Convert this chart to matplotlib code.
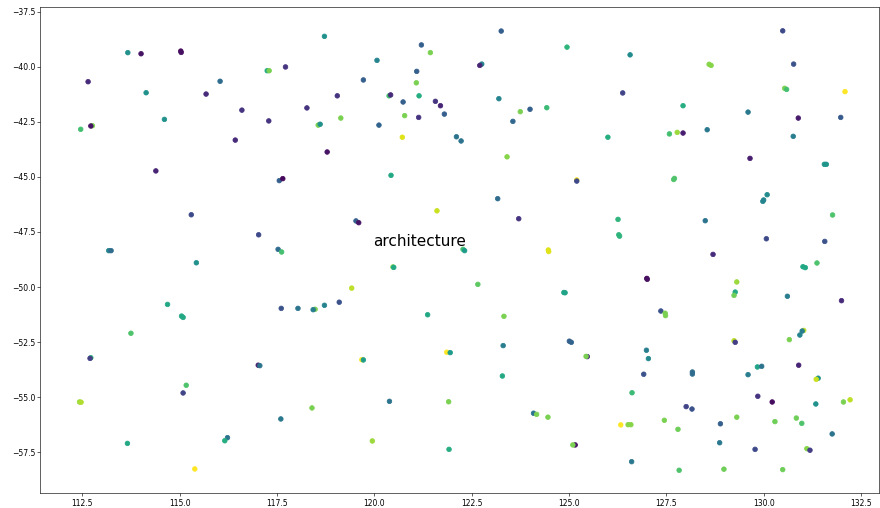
import matplotlib
matplotlib.use("Agg")
import matplotlib.pyplot as plt

# longitude / latitude / colour value of every point
lon = [
    113.67, 114.01, 115.03, 115.04, 112.65, 114.14, 115.68, 116.04, 116.60, 114.61,
    112.46, 112.76, 112.72, 116.43, 114.39, 115.30, 117.03, 113.18, 113.24,
    118.72, 121.21, 121.44, 117.25, 117.30, 117.72, 120.07, 121.09, 119.72, 121.08,
    119.05, 120.38, 120.42, 121.15, 120.74, 121.57, 121.70, 121.80, 118.27, 117.29,
    119.14, 118.56, 118.61, 120.12, 120.78, 121.14, 120.72, 122.11, 122.23, 118.79,
    120.43, 117.56, 117.65, 121.61, 119.53, 119.60,
    123.26, 124.95, 126.57, 122.76, 122.71, 123.20, 123.75, 124.00, 124.43, 123.56,
    126.38, 126.00, 127.58, 127.78, 123.41, 125.20, 125.20, 127.69, 127.71, 123.17,
    123.71, 126.26, 126.28, 126.30, 124.47, 124.48,
    130.49, 130.77, 128.60, 128.65, 130.54, 130.59, 132.09, 127.93, 129.60, 130.89,
    131.98, 127.93, 128.55, 130.76, 129.65, 131.56, 131.61, 130.09, 130.00, 129.98,
    131.77, 128.50, 130.07, 131.57,
    115.43, 114.69, 115.05, 115.09, 113.75, 112.72, 112.70, 117.02, 117.06, 115.17,
    115.09, 112.43, 112.47, 116.23, 116.16, 113.66, 115.39,
    117.53, 117.62, 120.48, 120.50, 119.42, 117.61, 118.04, 118.48, 118.43, 118.72,
    119.10, 121.37, 119.68, 119.72, 121.86, 121.95, 120.39, 121.91, 118.40, 117.60,
    119.95, 121.92, 122.28, 122.32,
    122.66, 127.00, 127.01, 124.87, 124.90, 127.36, 127.47, 127.48, 123.33, 123.31,
    125.01, 125.06, 125.47, 125.44, 126.99, 127.04, 123.29, 126.92, 126.62, 124.09,
    124.17, 124.46, 126.33, 126.52, 126.59, 127.45, 127.80, 125.16, 125.10, 126.61,
    127.83,
    128.70, 131.01, 131.07, 131.37, 129.31, 129.27, 129.24, 130.61, 132.00, 130.93,
    131.03, 130.99, 130.66, 129.24, 129.27, 128.17, 128.17, 129.84, 129.95, 129.60,
    130.90, 131.40, 131.35, 129.85, 130.22, 131.34, 132.05, 132.22, 128.01, 128.16,
    129.31, 128.89, 130.29, 130.84, 130.98, 131.76, 128.87, 129.78, 131.11, 131.19,
    128.98, 130.49,
]
lat = [
    -39.36, -39.41, -39.29, -39.35, -40.68, -41.18, -41.24, -40.66, -41.97, -42.39,
    -42.84, -42.68, -42.69, -43.33, -44.73, -46.72, -47.63, -48.35, -48.35,
    -38.62, -39.01, -39.36, -40.18, -40.18, -40.01, -39.71, -40.21, -40.60, -40.73,
    -41.32, -41.32, -41.28, -41.32, -41.60, -41.57, -41.77, -42.15, -41.87, -42.46,
    -42.33, -42.65, -42.61, -42.65, -42.22, -42.30, -43.20, -43.18, -43.37, -43.87,
    -44.93, -45.17, -45.08, -46.54, -47.00, -47.08,
    -38.38, -39.11, -39.46, -39.88, -39.94, -41.45, -42.04, -41.93, -41.86, -42.48,
    -41.19, -43.20, -43.05, -42.98, -44.09, -45.14, -45.19, -45.12, -45.07, -45.99,
    -46.90, -46.93, -47.63, -47.69, -48.32, -48.39,
    -38.37, -39.88, -39.89, -39.94, -40.98, -41.03, -41.13, -41.77, -42.06, -42.33,
    -42.30, -43.01, -42.86, -43.16, -44.16, -44.43, -44.43, -45.81, -46.05, -46.11,
    -46.73, -46.99, -47.81, -47.93,
    -48.90, -50.79, -51.32, -51.38, -52.10, -53.21, -53.24, -53.55, -53.57, -54.46,
    -54.81, -55.22, -55.23, -56.84, -56.98, -57.10, -58.26,
    -48.29, -48.41, -49.09, -49.11, -50.05, -50.97, -50.97, -51.01, -51.03, -50.83,
    -50.69, -51.26, -53.30, -53.31, -52.96, -52.98, -55.19, -55.21, -55.49, -55.99,
    -56.99, -57.37, -48.29, -48.35,
    -49.88, -49.61, -49.65, -50.25, -50.26, -51.09, -51.19, -51.30, -51.33, -52.66,
    -52.46, -52.51, -53.16, -53.15, -52.87, -53.25, -54.04, -53.96, -54.80, -55.73,
    -55.78, -55.91, -56.26, -56.25, -56.25, -56.05, -56.46, -57.17, -57.17, -57.93,
    -58.32,
    -48.52, -49.08, -49.12, -48.91, -49.77, -50.23, -50.38, -50.42, -50.62, -52.18,
    -51.97, -52.00, -52.39, -52.44, -52.51, -53.86, -53.95, -53.63, -53.60, -53.98,
    -53.55, -54.14, -54.19, -54.96, -55.22, -55.31, -55.22, -55.12, -55.43, -55.54,
    -55.91, -56.21, -56.11, -55.95, -56.19, -56.67, -57.07, -57.37, -57.34, -57.41,
    -58.27, -58.29,
]
score = [
    0.50, 0.05, 0.02, 0.04, 0.12, 0.50, 0.12, 0.35, 0.15, 0.50,
    0.70, 0.80, 0.05, 0.12, 0.10, 0.22, 0.22, 0.45, 0.35,
    0.50, 0.30, 0.80, 0.60, 0.80, 0.15, 0.45, 0.30, 0.30, 0.80,
    0.15, 0.70, 0.12, 0.62, 0.30, 0.15, 0.10, 0.30, 0.15, 0.15,
    0.80, 0.80, 0.50, 0.32, 0.80, 0.15, 0.95, 0.38, 0.38, 0.05,
    0.60, 0.30, 0.02, 0.92, 0.30, 0.05,
    0.30, 0.65, 0.48, 0.45, 0.10, 0.45, 0.80, 0.30, 0.68, 0.33,
    0.20, 0.62, 0.70, 0.85, 0.82, 1.00, 0.22, 0.72, 0.72, 0.35,
    0.15, 0.65, 0.65, 0.65, 0.95, 0.95,
    0.22, 0.25, 0.82, 0.82, 0.80, 0.70, 1.00, 0.62, 0.40, 0.07,
    0.28, 0.08, 0.40, 0.42, 0.08, 0.52, 0.52, 0.48, 0.45, 0.45,
    0.72, 0.38, 0.22, 0.25,
    0.50, 0.60, 0.60, 0.60, 0.72, 0.65, 0.18, 0.08, 0.38, 0.72,
    0.20, 0.85, 0.88, 0.38, 0.62, 0.60, 1.00,
    0.35, 0.70, 0.80, 0.60, 0.90, 0.25, 0.38, 0.80, 0.42, 0.45,
    0.25, 0.60, 1.00, 0.55, 1.00, 0.55, 0.38, 0.80, 0.80, 0.40,
    0.85, 0.62, 0.70, 0.55,
    0.75, 0.00, 0.04, 0.58, 0.58, 0.25, 0.80, 0.80, 0.80, 0.42,
    0.30, 0.32, 0.10, 0.80, 0.42, 0.47, 0.60, 0.25, 0.68, 0.38,
    0.80, 0.80, 1.00, 0.82, 0.82, 0.80, 0.78, 0.05, 0.80, 0.40,
    0.72,
    0.12, 0.60, 0.60, 0.72, 0.85, 0.60, 0.78, 0.42, 0.12, 0.45,
    0.90, 0.42, 0.80, 0.90, 0.18, 0.35, 0.35, 0.58, 0.38, 0.42,
    0.10, 0.50, 0.92, 0.15, 0.03, 0.50, 0.80, 0.90, 0.20, 0.25,
    0.80, 0.30, 0.78, 0.78, 0.72, 0.38, 0.40, 0.22, 0.82, 0.18,
    0.78, 0.78,
]

label = "architecture"
label_pos = (119.96, -48.14)

fig = plt.figure(figsize=(16, 508 / 55), dpi=55)
ax = fig.add_axes([0.046, 0.029, 0.9534, 0.9567])

ax.scatter(lon, lat, c=score, cmap="viridis", vmin=0, vmax=1)
ax.text(label_pos[0], label_pos[1], label, fontsize=20)

ax.set_xlim(111.427, 132.975)
ax.set_ylim(-59.364, -37.30)

fig.savefig("out.png", dpi=55)
